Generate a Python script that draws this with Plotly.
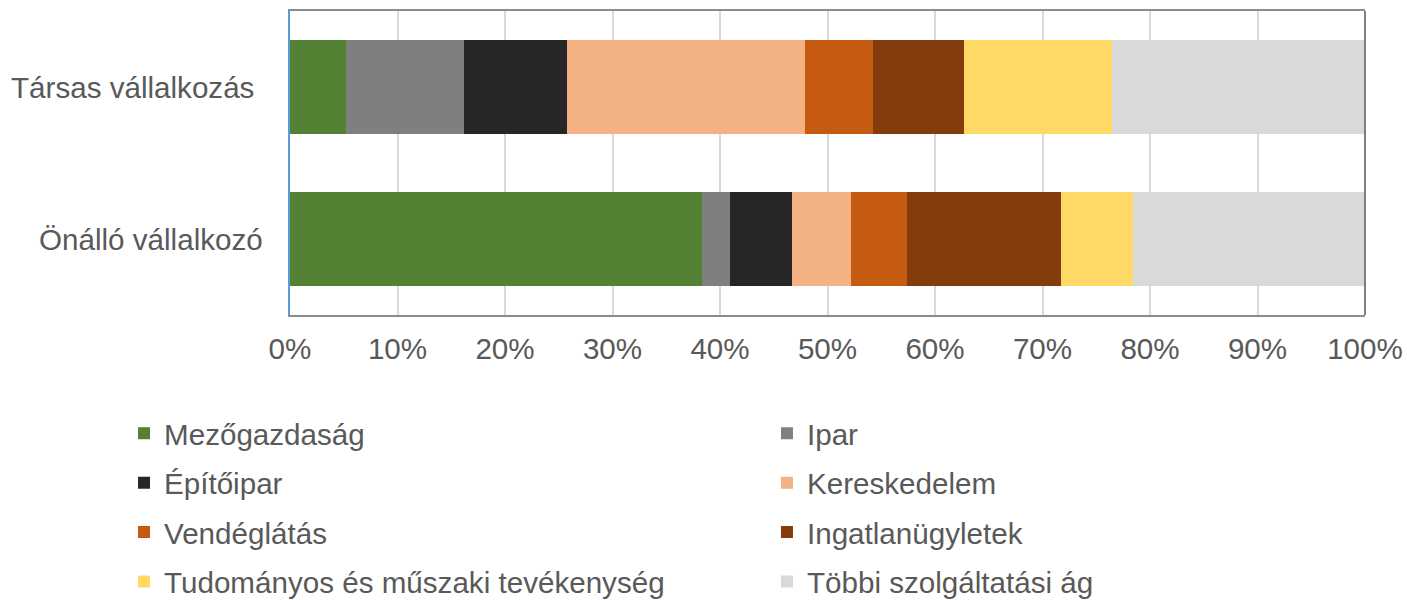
import plotly.graph_objects as go

categories = ["Önálló vállalkozó", "Társas vállalkozás"]
sectors = ["Mezőgazdaság", "Ipar", "Építőipar", "Kereskedelem", "Vendéglátás",
           "Ingatlanügyletek", "Tudományos és műszaki tevékenység", "Többi szolgáltatási ág"]
# shares in %, [Önálló vállalkozó, Társas vállalkozás]
mezogazdasag = [38.3, 5.2]
ipar = [2.6, 11.0]
epitoipar = [5.8, 9.6]
kereskedelem = [5.5, 22.1]
vendeglatas = [5.2, 6.3]
ingatlan = [14.3, 8.5]
tudomanyos = [6.7, 13.8]
tobbi = [21.6, 23.5]
values = [mezogazdasag, ipar, epitoipar, kereskedelem, vendeglatas, ingatlan, tudomanyos, tobbi]
colors = ["#548235", "#7f7f7f", "#262626", "#f4b183", "#c55a11", "#843c0c", "#ffd966", "#d9d9d9"]
tick_vals = [0, 10, 20, 30, 40, 50, 60, 70, 80, 90, 100]
tick_text = [f"{v}%" for v in tick_vals]

FONT = "Liberation Sans, Arial, sans-serif"
TXT = "#595959"
FS = 29.6

fig = go.Figure()
for i, (name, vals, col) in enumerate(zip(sectors, values, colors)):
    fig.add_trace(go.Bar(
        y=categories, x=vals, name=name, orientation="h",
        marker=dict(color=col, line=dict(width=0)),
        legend="legend" if i % 2 == 0 else "legend2",
        legendgroup=f"g{i}",
    ))

legend_common = dict(
    orientation="v", yanchor="top", xanchor="left",
    font=dict(size=FS, color=TXT, family=FONT),
    traceorder="grouped", bgcolor="rgba(0,0,0,0)", tracegroupgap=8,
)

fig.update_layout(
    barmode="stack",
    bargap=0.38,
    width=1407, height=600,
    margin=dict(l=290, r=42, t=11, b=285, autoexpand=False),
    paper_bgcolor="white", plot_bgcolor="white",
    font=dict(family=FONT, size=FS, color=TXT),
    showlegend=True,
    legend=dict(x=-0.1544, y=-0.304, **legend_common),
    legend2=dict(x=0.4437, y=-0.304, **legend_common),
    xaxis=dict(
        range=[0, 100], tickvals=tick_vals, ticktext=tick_text,
        showgrid=True, gridcolor="#d9d9d9", gridwidth=2,
        showline=True, linecolor="#8c8c8c", linewidth=2, mirror=True,
        ticks="", ticklabelstandoff=6, zeroline=False, automargin=False,
        tickfont=dict(size=FS, color=TXT, family=FONT),
    ),
    yaxis=dict(
        categoryorder="array", categoryarray=categories,
        showticklabels=False, showgrid=False, automargin=False,
        showline=True, linecolor="#5b9bd5", linewidth=2, zeroline=False,
    ),
)

# right border (darker) of the plot frame
fig.add_shape(type="line", xref="paper", yref="paper", x0=1, x1=1, y0=0, y1=1,
              line=dict(color="#7f7f7f", width=2))

label_right = {"Társas vállalkozás": -0.0316, "Önálló vállalkozó": -0.0233}
for cat in categories:
    fig.add_annotation(text=cat, xref="paper", yref="y", x=label_right[cat], y=cat,
                       xanchor="right", yanchor="middle", showarrow=False,
                       font=dict(size=FS, color=TXT, family=FONT))

fig.write_html(
    "out.html",
    config={"displayModeBar": False},
    post_script="document.body.style.margin='0';document.documentElement.style.overflow='hidden';",
)
